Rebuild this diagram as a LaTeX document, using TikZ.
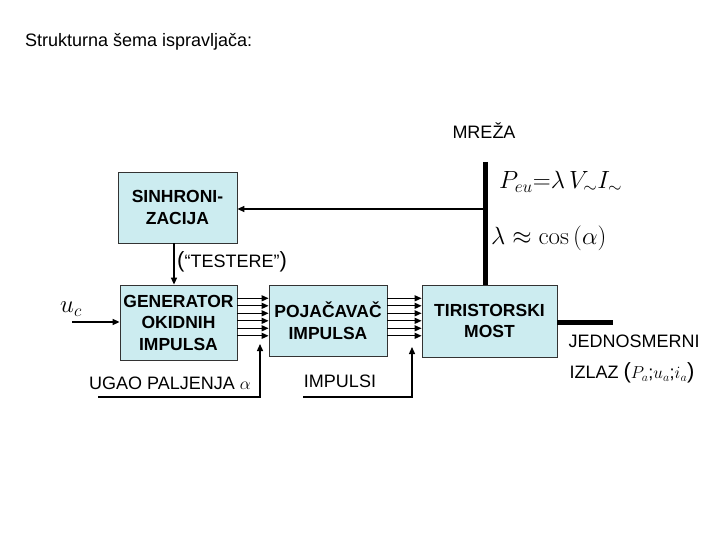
\documentclass[tikz,border=0pt]{standalone}
\usepackage[no-math]{fontspec}
\setmainfont{Liberation Sans}
\usetikzlibrary{arrows.meta}
\definecolor{boxc}{RGB}{204,236,240}
\begin{document}
\begin{tikzpicture}[x=1pt,y=-1pt,
  box/.style={draw=black!80, fill=boxc, line width=0.8pt, font=\bfseries\fontsize{17.5}{21.5}\selectfont, align=center, inner sep=0pt},
  conn/.style={line width=1.3pt, -{Triangle[length=7pt,width=6pt]}},
  lbl/.style={font=\fontsize{18}{20}\selectfont, inner sep=0pt},
  bus/.style={line width=5pt}]
\useasboundingbox (0,0) rectangle (720,540);

\node[lbl, anchor=west] (title) at (25,42) {Strukturna šema ispravljača:};

\node[box, minimum width=119pt, minimum height=71pt] (sinh) at (177.5,207.5) {SINHRONI-\\ZACIJA};
\node[box, minimum width=117pt, minimum height=75pt] (gen) at (178.5,322.5) {GENERATOR\\OKIDNIH\\IMPULSA};
\node[box, minimum width=118pt, minimum height=71pt] (poj) at (328,320.5) {POJAČAVAČ\\IMPULSA};
\node[box, minimum width=135pt, minimum height=72pt] (tir) at (489.5,321) {TIRISTORSKI\\MOST};

% mains bus
\coordinate (bustop) at (485,162);
\coordinate (tap) at (485,209);
\draw[bus] (bustop) -- (bustop |- tir.north);
\draw[conn] (tap) -- (tap -| sinh.east);
\node[lbl] (mreza) at (484,131) {MREŽA};
\node[inner sep=0pt, anchor=west, font=\fontsize{23}{26}\selectfont] (peu) at (499,182) {$P_{eu}{=}\lambda\, V_{\sim} I_{\sim}$};
\node[inner sep=0pt, anchor=west, font=\fontsize{24}{26}\selectfont] (lam) at (491,238) {$\lambda\approx\cos{(\alpha)}$};

% sync -> generator
\coordinate (st) at (174,243);
\draw[conn] (st) -- (st |- gen.north);
\node[lbl, anchor=west] (test) at (177,262) {{\fontsize{22}{22}\selectfont(}“TESTERE”{\fontsize{22}{22}\selectfont)}};

% uc
\coordinate (uc) at (72,322);
\draw[conn] (uc) -- (gen.west |- uc);
\node[inner sep=0pt, font=\fontsize{26}{26}\selectfont] (ucl) at (71,309) {$u_c$};

% bundles
\foreach \y in {298.3,305.8,313.3,320.8,328.3,335.8}{
  \draw[conn] (gen.east |- 0,\y) -- (poj.west |- 0,\y);
  \draw[conn] (poj.east |- 0,\y) -- (tir.west |- 0,\y);
}

% ugao paljenja
\coordinate (ua) at (98,397);
\coordinate (ut) at (260,344);
\draw[conn] (ua) -| (ut);
\node[lbl] (ugao) at (170,383) {UGAO PALJENJA $\alpha$};

% impulsi
\coordinate (ia) at (303,397);
\coordinate (it) at (412,347);
\draw[conn] (ia) -| (it);
\node[lbl] (imp) at (340,381) {IMPULSI};

% output
\coordinate (out) at (613,322);
\draw[bus] (tir.east |- out) -- (out);
\node[lbl] (jed) at (634,341) {JEDNOSMERNI};
\node[lbl] (izl) at (632,373) {IZLAZ {\fontsize{22}{22}\selectfont(}$P_a$;$u_a$;$i_a${\fontsize{22}{22}\selectfont)}};
\end{tikzpicture}
\end{document}
